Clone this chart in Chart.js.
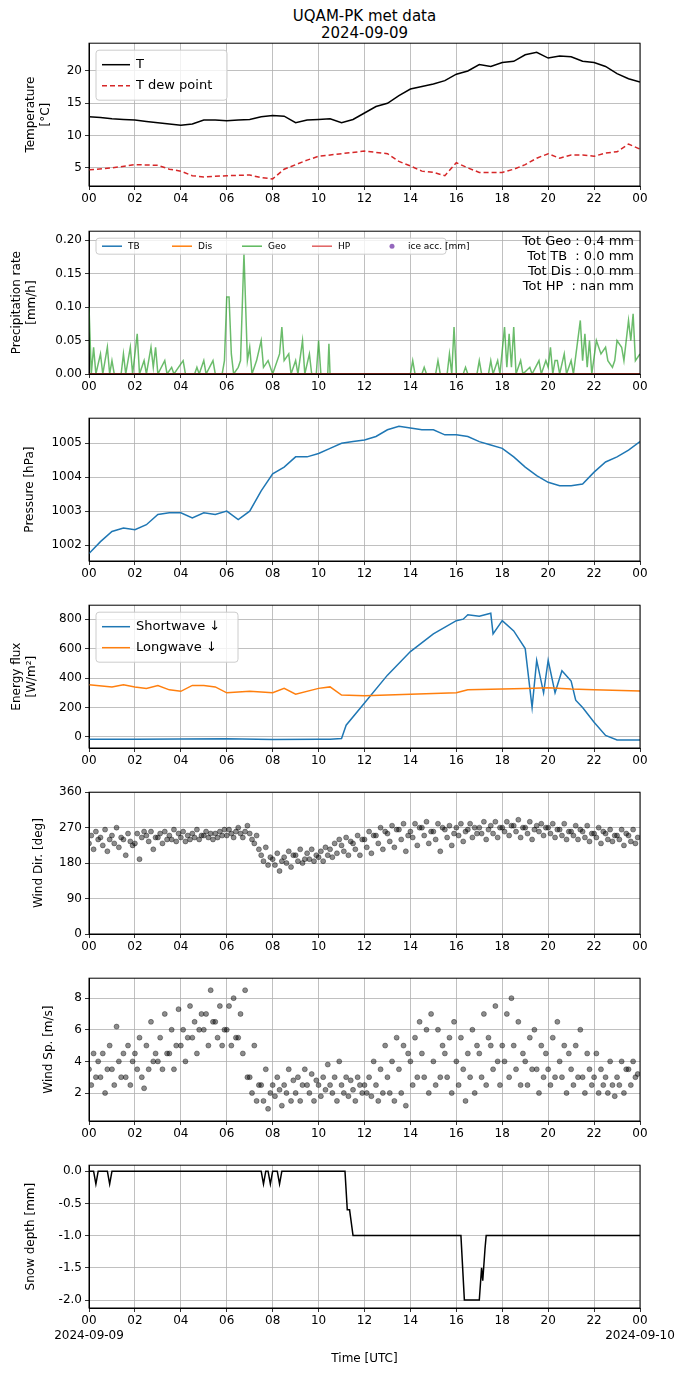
<!DOCTYPE html>
<html><head><meta charset="utf-8">
<script src="https://cdn.jsdelivr.net/npm/chart.js@4"></script>
<style>
body{margin:0;background:#fff;font-family:"DejaVu Sans",sans-serif;}
#wrap{position:relative;width:690px;height:1377px;}
canvas{position:absolute;left:0;}
.t{position:absolute;left:89px;width:551px;text-align:center;font-size:15px;color:#000;}
</style></head><body>
<div id="wrap">
<div class="t" style="top:7px">UQAM-PK met data</div>
<div class="t" style="top:24px">2024-09-09</div>
</div>
<script>
// ---- data (hours since 2024-09-09 00 UTC) ----
const tempT = [0,0.5,1,1.5,2,2.5,3,3.5,4,4.5,5,5.5,6,6.5,7,7.5,8,8.5,9,9.5,10,10.5,11,11.5,12,12.5,13,13.5,14,14.5,15,15.5,16,16.5,17,17.5,18,18.5,19,19.5,20,20.5,21,21.5,22,22.5,23,23.5,24];
const tempV = [12.9,12.8,12.6,12.5,12.4,12.2,12.0,11.8,11.6,11.8,12.4,12.4,12.3,12.4,12.5,12.9,13.1,13.0,12.0,12.4,12.5,12.6,12.0,12.5,13.5,14.5,15.0,16.2,17.2,17.6,18.0,18.5,19.5,20.0,21.0,20.7,21.3,21.5,22.5,22.9,22.0,22.3,22.2,21.5,21.3,20.7,19.6,18.8,18.3];
const dewT = [0,1,2,3,3.5,4,4.5,5,6,7,7.5,8,8.5,9,9.5,10,11,12,12.5,13,13.5,14,14.5,15,15.5,16,16.5,17,18,18.5,19,19.5,20,20.5,21,21.5,22,22.5,23,23.5,24];
const dewV = [4.7,5.0,5.5,5.4,4.8,4.5,3.8,3.6,3.8,3.9,3.5,3.3,4.8,5.5,6.2,6.8,7.2,7.6,7.4,7.2,6.0,5.3,4.5,4.3,3.8,5.8,5.0,4.3,4.3,4.8,5.5,6.5,7.2,6.5,7.0,7.0,6.8,7.3,7.5,8.7,7.9];

const geoT = [0,0.1,0.2,0.3,0.5,0.6,0.8,0.9,1.0,1.1,1.4,1.5,1.6,1.8,1.9,2.1,2.2,2.4,2.5,2.7,2.8,2.9,3.0,3.3,3.4,3.6,3.7,4.1,4.2,4.6,4.7,4.8,5.0,5.1,5.4,5.5,5.8,5.9,6.0,6.1,6.2,6.3,6.5,6.6,6.75,6.9,7.0,7.1,7.3,7.5,7.6,7.8,8.0,8.3,8.4,8.5,8.7,8.8,9.0,9.1,9.3,9.4,9.6,9.7,9.9,10.0,10.1,10.4,10.45,10.5,11.0,14.0,14.1,14.2,14.5,14.6,14.7,15.1,15.2,15.3,15.6,15.7,15.8,15.9,16.0,16.3,16.4,16.5,16.9,17.0,17.1,17.4,17.5,17.6,17.8,17.9,18.1,18.2,18.3,18.4,18.5,18.6,18.8,18.9,19.2,19.3,19.6,19.7,19.9,20.0,20.1,20.2,20.3,20.4,20.5,20.7,20.8,21.0,21.1,21.4,21.5,21.6,21.7,21.8,21.9,22.1,22.3,22.5,22.6,22.8,22.9,23.0,23.2,23.3,23.5,23.6,23.7,23.8,24.0];
const geoV = [0.1,0,0.04,0,0.03,0,0.04,0,0.02,0,0,0.03,0,0.04,0,0.06,0,0.02,0,0.04,0.01,0.04,0,0.02,0,0.01,0,0.02,0,0,0.01,0,0.02,0,0.02,0,0,0.02,0.115,0.115,0.03,0,0.01,0.02,0.18,0.02,0.04,0,0.02,0.05,0.01,0.02,0,0.03,0.07,0.02,0.03,0,0.02,0,0.05,0,0.03,0,0,0.05,0,0,0.045,0,0,0,0.02,0,0,0.01,0,0,0.02,0,0,0.03,0,0.07,0,0,0.01,0,0,0.02,0,0,0.02,0,0.02,0,0.07,0.01,0.06,0.01,0.07,0,0.02,0,0.01,0,0.02,0,0.02,0.01,0.04,0,0.02,0.02,0,0.03,0,0.02,0,0.08,0.02,0.06,0.01,0.05,0,0.05,0.03,0.04,0.02,0.01,0.02,0.05,0.04,0.02,0.08,0.05,0.09,0.02,0.03];
const zeroT = [0,24], zeroV = [0,0];
const precipTotals = ["Tot Geo : 0.4 mm","Tot TB  : 0.0 mm","Tot Dis : 0.0 mm","Tot HP  : nan mm"];

const presT = tempT;
const presV = [1001.75,1002.1,1002.4,1002.5,1002.45,1002.6,1002.9,1002.95,1002.95,1002.8,1002.95,1002.9,1003.0,1002.75,1003.0,1003.6,1004.1,1004.3,1004.6,1004.6,1004.7,1004.85,1005.0,1005.05,1005.1,1005.2,1005.4,1005.5,1005.45,1005.4,1005.4,1005.25,1005.25,1005.2,1005.05,1004.95,1004.85,1004.6,1004.3,1004.05,1003.85,1003.75,1003.75,1003.8,1004.15,1004.45,1004.6,1004.8,1005.05];

const swT = [0,2,4,6,8,10,10.5,11,11.2,12,13,14,15,16,16.3,16.5,17,17.5,17.6,18,18.5,19,19.3,19.5,19.8,20,20.3,20.6,21,21.2,21.5,22,22.5,23,24];
const swV = [-15,-15,-14,-12,-18,-16,-15,-10,80,230,420,580,700,790,800,830,820,840,700,790,720,600,200,520,300,520,300,450,380,250,200,100,10,-20,-20];
const lwT = [0,1,1.5,2,2.5,3,3.5,4,4.5,5,5.5,6,7,8,8.5,9,10,10.5,11,12,14,16,16.5,18,19,20,21,22,24];
const lwV = [355,340,355,340,330,350,320,310,350,350,340,300,310,300,330,290,330,340,285,280,290,300,320,325,330,335,325,320,312];

// scatter: 48 half-hour slots, five samples each
const windDir = [
[230,250,215,260,240],[245,225,265,210,240],[250,230,270,220,245],[240,200,255,235,225],
[230,255,190,245,260],[250,235,260,215,245],[245,255,230,260,240],[250,240,265,235,255],
[245,260,235,250,240],[255,245,265,240,250],[250,260,245,255,240],[255,245,260,250,265],
[250,265,255,245,260],[270,255,245,260,275],[255,240,230,250,215],[200,185,220,175,195],
[190,175,205,160,185],[195,180,210,170,200],[200,185,215,180,190],[205,190,215,185,200],
[195,210,185,220,200],[215,195,230,205,240],[225,210,245,200,235],[230,215,250,200,240],
[240,220,260,205,250],[250,230,270,215,260],[255,235,275,220,265],[265,240,280,210,250],
[260,245,280,225,270],[270,250,285,230,260],[260,240,280,210,270],[265,245,275,225,255],
[270,250,280,235,260],[265,280,245,270,255],[270,255,285,240,265],[275,255,285,245,270],
[270,260,285,250,275],[275,260,290,245,270],[270,255,285,240,265],[275,260,280,250,270],
[270,255,280,245,265],[265,250,280,240,260],[260,250,275,240,265],[260,245,275,235,255],
[255,245,270,230,260],[255,240,265,235,250],[250,240,265,225,255],[250,235,265,230,245]];
const windSp = [
[3.5,2.5,4.5,3.0,4.0],[3.0,4.5,2.0,3.5,5.0],[3.5,2.5,6.2,4.0,3.0],[4.5,3.0,5.0,2.5,4.0],
[4.5,3.5,5.5,3.0,2.3],[5.0,3.5,6.5,4.0,4.5],[4.0,5.5,3.5,7.0,4.5],[4.5,6.0,3.5,5.0,7.3],
[5.0,6.0,4.0,5.5,7.5],[5.5,6.5,4.5,6.0,7.0],[6.0,7.0,5.0,8.5,6.5],[6.5,5.5,7.5,5.0,6.0],
[6.0,7.5,5.0,8.0,5.5],[5.5,7.0,4.5,8.5,3.0],[3.0,2.0,5.0,1.5,2.5],[2.5,1.5,3.5,1.0,2.0],
[2.5,1.8,3.0,2.2,1.2],[2.5,2.0,3.5,1.5,2.8],[2.0,3.0,1.5,2.5,3.5],[2.5,2.0,3.2,1.5,2.8],
[2.5,1.8,3.0,2.2,3.8],[2.5,2.0,3.0,1.5,4.0],[2.5,2.0,3.0,1.8,2.8],[2.2,1.5,3.0,2.5,2.0],
[2.5,2.0,3.0,1.8,4.0],[2.5,1.5,3.5,2.0,5.0],[3.0,2.0,4.0,1.5,5.5],[3.5,2.0,5.0,1.2,4.5],
[4.0,2.5,5.5,3.0,6.5],[4.5,3.0,6.0,2.0,7.0],[4.0,2.5,6.0,3.0,5.0],[4.5,3.0,5.5,2.0,6.5],
[4.0,2.5,5.5,3.5,1.5],[4.5,3.0,6.0,2.0,5.0],[4.5,3.0,7.0,2.5,5.5],[5.0,3.5,7.5,4.0,2.5],
[5.0,4.0,7.0,3.0,8.0],[5.0,3.5,6.5,2.5,4.5],[4.0,2.5,5.5,3.5,6.0],[3.5,2.0,5.0,3.0,4.5],
[3.5,2.5,5.5,3.0,6.5],[4.0,3.0,5.0,2.0,4.5],[3.5,2.5,5.0,3.0,6.0],[3.0,2.0,4.5,3.5,2.5],
[3.0,4.5,2.0,3.5,2.5],[3.0,2.0,4.0,2.5,1.8],[3.0,2.5,4.0,2.0,3.5],[3.5,2.5,4.0,3.0,3.2]];

const snowT = [0,0.2,0.3,0.4,0.8,0.9,1.0,7.5,7.6,7.7,7.8,7.9,8.0,8.2,8.3,8.4,11.15,11.25,11.35,11.5,16.2,16.35,17.0,17.1,17.15,17.25,17.3,24];
const snowV = [0,0,-0.2,0,0,-0.2,0,0,-0.2,0,0,-0.2,0,0,-0.2,0,0,-0.6,-0.6,-1,-1,-2,-2,-1.5,-1.7,-1.2,-1,-1];

const hourTicks = [0,2,4,6,8,10,12,14,16,18,20,22,24];

// ---- helpers ----
const pts = (xs, ys) => xs.map((x, i) => ({x, y: ys[i]}));
const slotPts = slots => slots.flatMap((vals, s) => vals.map((v, k) => ({x: s * 0.5 + k * 0.1, y: v})));
const FONT = {family: "DejaVu Sans", size: 12};

const frame = {
  id: "frame",
  afterDraw(c, a, o) {
    const {ctx, chartArea: ca} = c;
    ctx.save();
    ctx.strokeStyle = "#000"; ctx.lineWidth = 1;
    ctx.strokeRect(ca.left, ca.top, ca.right - ca.left, ca.bottom - ca.top);
    if (o.legend) {
      const L = o.legend;
      ctx.font = L.font;
      const w = L.w, h = L.items.length > 1 && !L.row ? L.items.length * L.lh + 8 : L.lh + 6;
      const x0 = ca.left + 7, y0 = ca.top + 7;
      ctx.fillStyle = "rgba(255,255,255,0.8)"; ctx.strokeStyle = "#ccc";
      ctx.beginPath(); ctx.roundRect(x0, y0, w, h, 3); ctx.fill(); ctx.stroke();
      L.items.forEach((it, i) => {
        const x = L.row ? x0 + 6 + i * L.step : x0 + 6;
        const y = L.row ? y0 + h / 2 : y0 + 4 + L.lh * (i + 0.5);
        ctx.strokeStyle = it.c; ctx.fillStyle = it.c; ctx.lineWidth = it.lw || 1.5;
        if (it.dot) { ctx.beginPath(); ctx.arc(x + L.len / 2, y, 2.5, 0, 7); ctx.fill(); }
        else { ctx.setLineDash(it.dash || []); ctx.beginPath(); ctx.moveTo(x, y); ctx.lineTo(x + L.len, y); ctx.stroke(); ctx.setLineDash([]); }
        ctx.fillStyle = "#000"; ctx.textBaseline = "middle"; ctx.textAlign = "left";
        ctx.fillText(it.t, x + L.len + 6, y);
      });
    }
    if (o.totals) {
      ctx.font = "13px DejaVu Sans"; ctx.fillStyle = "#000"; ctx.textAlign = "right"; ctx.textBaseline = "top";
      o.totals.forEach((s, i) => ctx.fillText(s, ca.right - 6, ca.top + 4 + i * 15));
    }
    ctx.restore();
  }
};

function panel(plotTop, plotH, datasets, y, opts = {}) {
  const padTop = 10, xh = opts.last ? 62 : 30, padLeft = y.padLeft || 0;
  const cv = document.createElement("canvas");
  cv.style.top = (plotTop - padTop) + "px";
  cv.style.width = "690px"; cv.style.height = (plotH + padTop + xh) + "px";
  cv.width = 690; cv.height = plotH + padTop + xh;
  document.getElementById("wrap").appendChild(cv);
  new Chart(cv, {
    type: "scatter",
    data: {datasets},
    options: {
      responsive: false, animation: false, devicePixelRatio: 1,
      layout: {padding: {top: padTop, right: 50, left: padLeft, bottom: 0}},
      plugins: {legend: {display: false}, tooltip: {enabled: false}, frame: {legend: opts.legend, totals: opts.totals}},
      scales: {
        x: {
          type: "linear", min: 0, max: 24,
          afterBuildTicks: s => { s.ticks = hourTicks.map(v => ({value: v})); },
          afterFit: s => { s.height = xh; },
          grid: {color: "#b0b0b0", lineWidth: 0.8, tickLength: 4, tickColor: "#000"},
          border: {color: "#000"},
          ticks: {font: FONT, color: "#000", maxRotation: 0, autoSkip: false, padding: 2,
            callback: v => {
              const h = String(v % 24).padStart(2, "0");
              if (opts.last && v === 0) return [h, "2024-09-09"];
              if (opts.last && v === 24) return [h, "2024-09-10"];
              return h;
            }},
          title: opts.last ? {display: true, text: "Time [UTC]", font: FONT, color: "#000", padding: {top: 0}} : {display: false}
        },
        y: {
          min: y.min, max: y.max,
          afterBuildTicks: s => { s.ticks = y.ticks.map(v => ({value: v})); },
          afterFit: s => { s.width = 89 - padLeft; },
          grid: {color: "#b0b0b0", lineWidth: 0.8, tickLength: 4, tickColor: "#000"},
          border: {color: "#000"},
          ticks: {font: FONT, color: "#000", padding: 3, callback: y.fmt || (v => v)},
          title: {display: true, text: y.label, font: FONT, color: "#000", padding: 0}
        }
      }
    },
    plugins: [frame]
  });
}

const line = (data, c, extra = {}) => Object.assign({data, showLine: true, borderColor: c, backgroundColor: c, borderWidth: 1.5, pointRadius: 0, tension: 0}, extra);

panel(43, 143, [
  line(pts(dewT, dewV), "#d62728", {borderDash: [5, 3]}),
  line(pts(tempT, tempV), "#000")
], {min: 2.2, max: 24.3, ticks: [5, 10, 15, 20], label: ["Temperature", "[°C]"], padLeft: 24},
{legend: {font: "13px DejaVu Sans", len: 28, lh: 21, w: 131, items: [{t: "T", c: "#000"}, {t: "T dew point", c: "#d62728", dash: [5, 3]}]}});

panel(231, 143, [
  line(pts(zeroT, zeroV), "#d62728"),
  line(pts(zeroT, zeroV), "#ff7f0e"),
  line(pts(zeroT, zeroV), "#1f77b4"),
  line(pts(geoT, geoV), "rgba(44,160,44,0.7)")
], {min: 0, max: 0.2134, ticks: [0, 0.05, 0.1, 0.15, 0.2], label: ["Precipitation rate", "[mm/h]"], fmt: v => v.toFixed(2), padLeft: 10},
{totals: precipTotals, legend: {font: "9px DejaVu Sans", row: true, len: 20, lh: 10, w: 350, step: 70,
  items: [{t: "TB", c: "#1f77b4"}, {t: "Dis", c: "#ff7f0e"}, {t: "Geo", c: "#5cb85c"}, {t: "HP", c: "#e06060"}, {t: "ice acc. [mm]", c: "#9467bd", dot: true}]}});

panel(418, 143, [line(pts(presT, presV), "#1f77b4")],
{min: 1001.53, max: 1005.74, ticks: [1002, 1003, 1004, 1005], label: "Pressure [hPa]", padLeft: 23});

panel(605, 143, [
  line(pts(lwT, lwV), "#ff7f0e"),
  line(pts(swT, swV), "#1f77b4")
], {min: -75, max: 895, ticks: [0, 200, 400, 600, 800], label: ["Energy flux", "[W/m²]"], padLeft: 10},
{legend: {font: "13px DejaVu Sans", len: 28, lh: 21, w: 142, items: [{t: "Shortwave ↓", c: "#1f77b4"}, {t: "Longwave ↓", c: "#ff7f0e"}]}});

const dot = data => ({data, pointRadius: 2.5, borderWidth: 0.6, backgroundColor: "rgba(0,0,0,0.45)", borderColor: "rgba(0,0,0,0.6)"});
panel(792, 142, [dot(slotPts(windDir))], {min: 0, max: 360, ticks: [0, 90, 180, 270, 360], label: "Wind Dir. [deg]", padLeft: 32});
panel(978, 143, [dot(slotPts(windSp))], {min: 0.23, max: 9.26, ticks: [2, 4, 6, 8], label: "Wind Sp. [m/s]", padLeft: 42});

panel(1165, 143, [line(pts(snowT, snowV), "#000")],
{min: -2.124, max: 0.093, ticks: [0, -0.5, -1, -1.5, -2], label: "Snow depth [mm]", fmt: v => v.toFixed(1), padLeft: 24}, {last: true});
</script>
</body></html>
